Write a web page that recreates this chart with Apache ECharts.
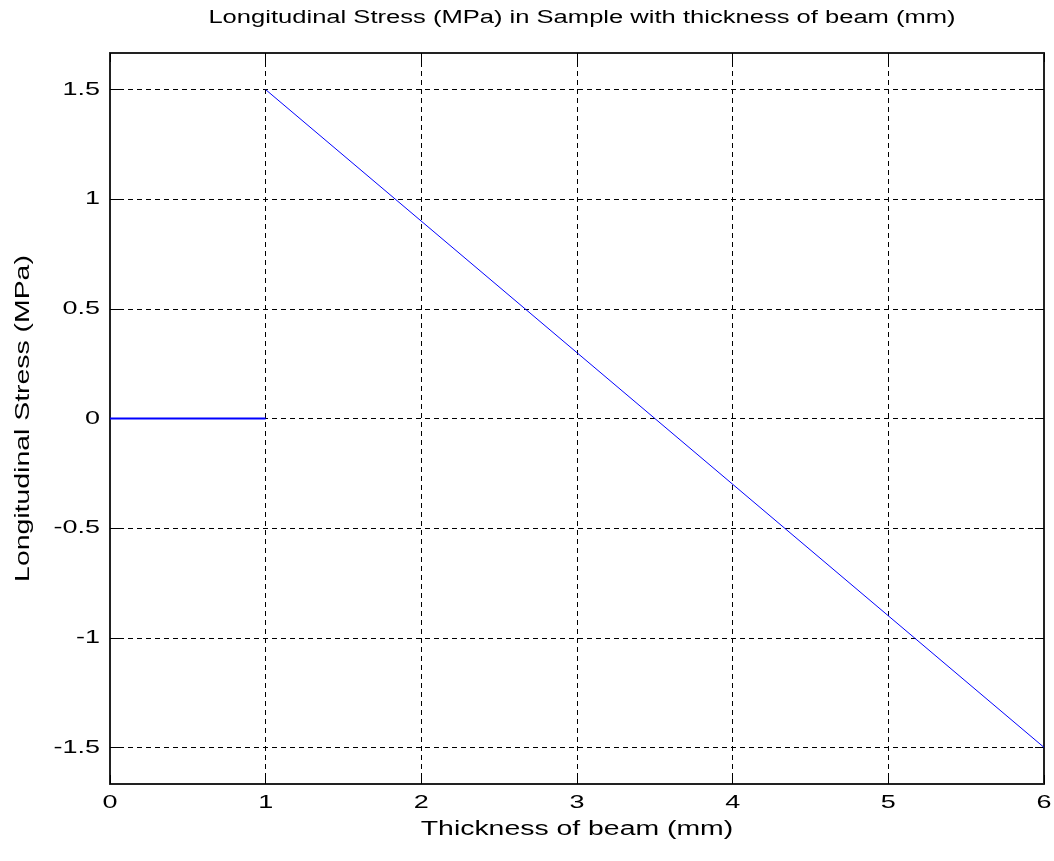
<!DOCTYPE html>
<html><head><meta charset="utf-8">
<script src="https://cdn.jsdelivr.net/npm/echarts@6/dist/echarts.min.js"></script>
<style>html,body{margin:0;padding:0;background:#fff}#c{width:1054px;height:861px}</style>
</head><body><div id="c"></div>
<script>
const titleText = 'Longitudinal Stress (MPa) in Sample with thickness of beam (mm)';
const xName = 'Thickness of beam (mm)';
const yName = 'Longitudinal Stress (MPa)';
const xTicks = [0, 1, 2, 3, 4, 5, 6];
const yTicks = [-1.5, -1, -0.5, 0, 0.5, 1, 1.5];
const seg1 = [[0, 0], [1, 0]];
const seg2 = [[1, 1.5], [6, -1.5]];
const xMin = 0, xMax = 6, yMin = -1.667, yMax = 1.667;

// The reference text is rendered wide (horizontally expanded glyphs); emulate with a horizontal scale.
const SX = 1.42;
(function () {
  const P = CanvasRenderingContext2D.prototype;
  const fill = P.fillText, stroke = P.strokeText, meas = P.measureText;
  P.fillText = function (t, x, y, mw) {
    this.save(); this.translate(x, y); this.scale(SX, 1);
    mw === undefined ? fill.call(this, t, 0, 0) : fill.call(this, t, 0, 0, mw / SX);
    this.restore();
  };
  P.strokeText = function (t, x, y, mw) {
    this.save(); this.translate(x, y); this.scale(SX, 1);
    mw === undefined ? stroke.call(this, t, 0, 0) : stroke.call(this, t, 0, 0, mw / SX);
    this.restore();
  };
  P.measureText = function (t) {
    const m = meas.call(this, t);
    return {
      width: m.width * SX,
      actualBoundingBoxLeft: m.actualBoundingBoxLeft * SX,
      actualBoundingBoxRight: m.actualBoundingBoxRight * SX,
      actualBoundingBoxAscent: m.actualBoundingBoxAscent,
      actualBoundingBoxDescent: m.actualBoundingBoxDescent,
      fontBoundingBoxAscent: m.fontBoundingBoxAscent,
      fontBoundingBoxDescent: m.fontBoundingBoxDescent
    };
  };
})();

const font = 'Liberation Sans, Arial, sans-serif';
const chart = echarts.init(document.getElementById('c'));
const dash = {show: true, lineStyle: {color: '#000', type: [5, 4], width: 1}};
const baseAxis = (type, pos, ticks, showLbl) => ({
  type: 'value', position: pos, min: type === 'x' ? xMin : yMin, max: type === 'x' ? xMax : yMax,
  axisLine: {show: true, onZero: false, lineStyle: {color: '#222', width: 2}},
  axisTick: {show: true, inside: true, length: 9, customValues: ticks, lineStyle: {color: '#000', width: 1}},
  axisLabel: {show: showLbl, customValues: ticks, color: '#000', fontFamily: font, fontSize: 19,
    margin: type === 'x' ? 5 : 10, formatter: v => String(v)},
  splitLine: showLbl ? dash : {show: false}
});
chart.setOption({
  animation: false,
  title: {text: titleText, left: 577, top: 0, textAlign: 'center',
    textStyle: {fontFamily: font, fontSize: 18, fontWeight: 'normal', color: '#000'}},
  grid: {left: 110, right: 10, top: 53, bottom: 77, containLabel: false, outerBoundsMode: 'none'},
  xAxis: [
    Object.assign(baseAxis('x', 'bottom', xTicks, true), {name: xName, nameLocation: 'middle', nameGap: 31,
      nameMoveOverlap: false,
      nameTextStyle: {fontFamily: font, fontSize: 20, color: '#000'}}),
    baseAxis('x', 'top', xTicks, false)
  ],
  yAxis: [
    Object.assign(baseAxis('y', 'left', yTicks, true), {name: yName, nameLocation: 'middle', nameGap: 72,
      nameMoveOverlap: false,
      nameTextStyle: {fontFamily: font, fontSize: 20, color: '#000'}}),
    baseAxis('y', 'right', yTicks, false)
  ],
  series: [
    {type: 'line', data: seg1, symbol: 'none', lineStyle: {color: '#0000ff', width: 2}},
    {type: 'line', data: seg2, symbol: 'none', lineStyle: {color: '#0000ff', width: 1}}
  ]
});
</script></body></html>
